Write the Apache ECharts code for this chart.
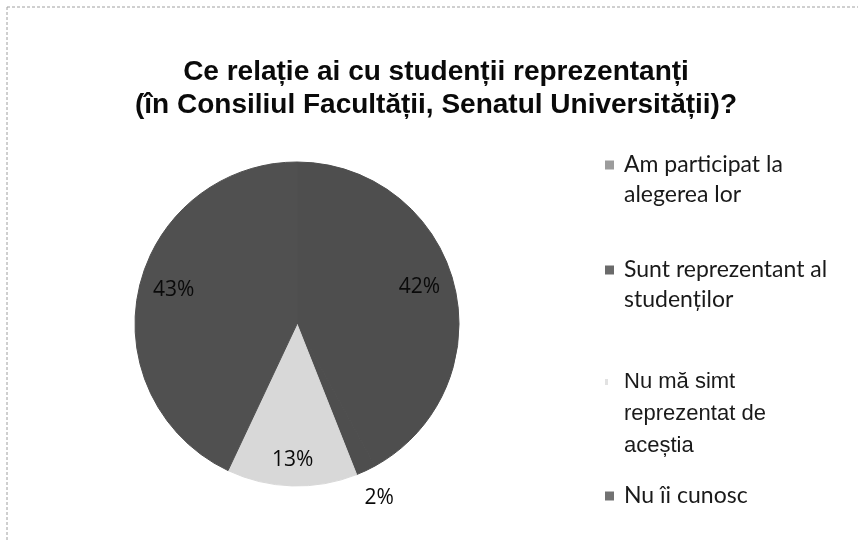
<!DOCTYPE html>
<html>
<head>
<meta charset="utf-8">
<script src="https://cdn.jsdelivr.net/npm/echarts@6/dist/echarts.min.js"></script>
<style>
html,body{margin:0;padding:0;background:#fff;}
#chart{width:858px;height:542px;}
</style>
</head>
<body>
<div id="chart"></div>
<script>
const titleText = 'Ce relație ai cu studenții reprezentanți\n(în Consiliul Facultății, Senatul Universității)?';
const categories = ['Am participat la alegerea lor', 'Sunt reprezentant al studenților', 'Nu mă simt reprezentat de aceștia', 'Nu îi cunosc'];
const values = [42, 2, 13, 43];
const legendLines = [
  ['Am participat la', 'alegerea lor'],
  ['Sunt reprezentant al', 'studenților'],
  ['Nu mă simt', 'reprezentat de', 'aceștia'],
  ['Nu îi cunosc']
];

const sliceColors = ['#4e4e4e', '#4e4e4e', '#d8d8d8', '#505050'];
const markerColors = ['#9c9c9c', '#6a6a6a', '#e2e2e2', '#727272'];

const CX = 297, CY = 324, R = 162;
const total = values.reduce((a, b) => a + b, 0);

const legendTops = [150, 255, 366, 481];
const legendFonts = [
  {fontFamily: 'Lato', fontSize: 23, lineHeight: 30},
  {fontFamily: 'Lato', fontSize: 23, lineHeight: 30},
  {fontFamily: 'Liberation Sans', fontSize: 22, lineHeight: 32},
  {fontFamily: 'Lato', fontSize: 23, lineHeight: 30}
];

const legends = categories.map((name, i) => ({
  data: [name],
  left: 600,
  top: legendTops[i],
  icon: 'none',
  itemWidth: 0,
  itemHeight: 0,
  selectedMode: false,
  padding: 0,
  formatter: () => legendLines[i].map((l, j) => (j === 0 ? '{m|}{g|}' : '{s|}') + '{t|' + l + '}').join('\n'),
  textStyle: {
    color: '#1a1a1a',
    fontFamily: legendFonts[i].fontFamily,
    fontSize: legendFonts[i].fontSize,
    lineHeight: legendFonts[i].lineHeight,
    rich: {
      m: {width: i === 2 ? 3 : 9, height: i === 2 ? 6 : 9, backgroundColor: markerColors[i]},
      g: {width: i === 2 ? 16 : 10},
      s: {width: 19},
      t: {
        color: '#1a1a1a',
        fontFamily: legendFonts[i].fontFamily,
        fontSize: legendFonts[i].fontSize,
        lineHeight: legendFonts[i].lineHeight
      }
    }
  }
}));

const chart = echarts.init(document.getElementById('chart'), null, {renderer: 'canvas'});
chart.setOption({
  backgroundColor: '#ffffff',
  animation: false,
  title: {
    text: titleText,
    left: 436,
    top: 56,
    textAlign: 'center',
    padding: 0,
    textStyle: {
      fontFamily: 'Liberation Sans',
      fontWeight: 'bold',
      fontSize: 28,
      lineHeight: 33,
      color: '#0a0a0a'
    }
  },
  legend: legends,
  graphic: [
    {type: 'line', shape: {x1: 7, y1: 7, x2: 858, y2: 7}, style: {stroke: '#a0a0a0', lineWidth: 1, lineDash: [3, 2]}},
    {type: 'line', shape: {x1: 7, y1: 7, x2: 7, y2: 542}, style: {stroke: '#a0a0a0', lineWidth: 1, lineDash: [3, 2]}}
  ],
  series: [{
    type: 'pie',
    center: [CX, CY],
    radius: R,
    startAngle: 90,
    clockwise: true,
    avoidLabelOverlap: false,
    emphasis: {disabled: true},
    label: {
      show: true,
      position: 'inside',
      formatter: p => p.value + '%',
      fontFamily: 'Open Sans',
      fontSize: 21,
      color: '#0a0a0a'
    },
    labelLine: {show: false},
    labelLayout: function (params) {
      const i = params.dataIndex;
      let before = 0;
      for (let k = 0; k < i; k++) before += values[k];
      const mid = (before + values[i] / 2) / total * Math.PI * 2;
      const f = values[i] < 5 ? 1.19 : (values[i] < 20 ? 0.84 : 0.78);
      return {
        x: CX + f * R * Math.sin(mid),
        y: CY - f * R * Math.cos(mid) - (values[i] >= 20 ? 6 : 0),
        align: 'center',
        verticalAlign: 'middle'
      };
    },
    data: categories.map((name, i) => ({
      name: name,
      value: values[i],
      itemStyle: {color: sliceColors[i], borderColor: sliceColors[i], borderWidth: 1}
    }))
  }]
});
</script>
</body>
</html>
